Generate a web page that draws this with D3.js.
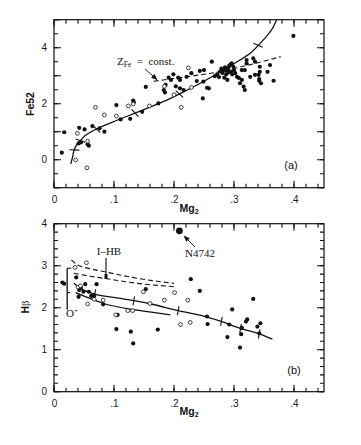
<!DOCTYPE html>
<html>
<head>
<meta charset="utf-8">
<script src="https://d3js.org/d3.v7.min.js"></script>
<style>
  body { margin: 0; background: #fff; }
  svg { display: block; }
  .ax path { display: none; }
  .lbl text { font-family: "Liberation Sans", Arial, sans-serif; font-size: 10px; fill: #1a1a1a; }
</style>
</head>
<body>
<svg id="fig" width="361" height="445"></svg>
<script>
// ---- panel (a): Fe52 vs Mg2 ----
const aFilled = [
  [.013,.25],[.017,.98],[.042,1.14],[.041,.58],[.045,.62],[.051,1.08],[.058,.50],[.056,.55],
  [.064,1.20],[.076,1.12],[.084,1.00],[.104,1.95],[.111,1.44],[.127,1.46],[.132,2.11],[.133,2.05],
  [.147,1.71],[.153,2.60],[.174,2.01],[.183,2.49],[.185,2.40],[.186,2.67],[.191,2.93],[.195,2.85],
  [.199,3.05],[.203,2.62],[.207,2.93],[.210,2.85],[.210,2.55],[.216,2.49],[.221,2.96],[.229,3.09],
  [.238,2.81],[.243,3.17],[.248,2.19],[.249,2.79],[.250,3.20],[.255,2.57],[.258,2.55],[.263,3.50],
  [.268,2.98],[.272,3.05],[.275,2.95],[.277,3.15],[.279,3.25],[.281,3.10],[.283,3.20],[.284,2.93],
  [.285,3.30],[.287,3.05],[.288,3.18],[.289,2.85],[.290,3.25],[.291,3.12],[.292,3.35],[.294,3.40],
  [.295,3.15],[.296,3.44],[.297,3.05],[.299,3.32],[.300,3.20],[.302,3.09],[.305,2.96],[.308,2.92],
  [.310,2.73],[.313,2.85],[.313,3.20],[.316,2.61],[.318,2.49],[.318,3.20],[.321,3.56],[.321,3.44],
  [.327,2.96],[.332,3.62],[.335,3.50],[.335,3.03],[.341,3.03],[.342,2.88],[.342,2.82],[.345,2.73],
  [.343,3.32],[.343,3.14],[.356,3.14],[.360,3.38],[.366,2.82],[.399,4.42]
];
const aOpen = [
  [.036,-.01],[.055,-.29],[.039,.94],[.056,.66],[.069,1.87],[.084,1.60],[.104,1.56],[.124,1.92],
  [.132,1.99],[.159,1.92],[.184,2.62],[.200,2.32],[.212,1.87],[.224,3.28],[.229,2.58]
];
const aCurve = [
  [.028,-.15],[.031,.10],[.033,.30],[.037,.50],[.044,.68],[.052,.86],[.062,1.00],[.077,1.16],
  [.104,1.40],[.132,1.64],[.160,1.88],[.188,2.13],[.216,2.42],[.243,2.72],[.271,3.06],[.299,3.42],
  [.327,3.80],[.349,4.28],[.363,4.65],[.371,5.00]
];
const aDash = [[.166,2.80],[.220,2.96],[.270,3.12],[.320,3.36],[.378,3.68]];
const aCross = [.034,.044,.071,.135,.209,.340];

// ---- panel (b): Hbeta vs Mg2 ----
const bFilled = [
  [.014,2.60],[.017,2.57],[.037,2.72],[.042,2.42],[.045,2.47],[.049,2.38],[.052,2.56],[.041,2.26],
  [.058,2.38],[.062,2.28],[.067,2.28],[.071,2.56],[.082,2.08],[.153,2.44],[.106,1.83],[.104,1.49],
  [.128,1.43],[.132,1.15],[.173,1.48],[.228,2.68],[.243,2.40],[.255,1.79],[.256,1.61],[.297,1.96],
  [.332,2.21],[.292,1.60],[.289,1.30],[.312,1.37],[.310,1.05],[.320,1.67],[.322,1.72],[.339,1.55],
  [.344,1.63],[.342,1.39],[.313,1.52]
];
const bOpen = [
  [.035,2.96],[.054,3.07],[.040,2.49],[.044,2.52],[.056,2.09],[.067,2.20],[.082,2.18],[.149,2.38],
  [.160,2.10],[.184,2.18],[.201,2.36],[.223,2.18],[.103,1.83],[.123,1.93],[.131,1.93],[.211,1.60],
  [.227,1.65]
];
const bBig = [[.209,3.83]];
const bDashUp = [[.029,3.14],[.039,3.02],[.060,2.93],[.083,2.86],[.139,2.70],[.200,2.58]];
const bDashLo = [[.033,2.82],[.060,2.75],[.083,2.70],[.139,2.58],[.200,2.50]];
const bSolidUp = [[.033,2.58],[.044,2.46],[.067,2.33],[.111,2.22],[.158,2.10],[.207,1.93],
  [.252,1.79],[.280,1.67],[.310,1.51],[.340,1.39],[.364,1.25]];
const bSolidLo = [[.036,2.36],[.060,2.22],[.083,2.10],[.139,1.94],[.194,1.83]];
const bTicks = [.068,.133,.207,.279,.311,.342];
const oPlus = [[.022,2.94],[.022,1.95]];

const xMajor = [0,.1,.2,.3,.4];
const xMinor = d3.range(0, 0.451, 0.02);
const aYLabels = [0,2,4];
const bYLabels = [0,1,2,3,4];

const svg = d3.select('#fig');
const ink = '#111';

function fmtX(v) { return v === 0 ? '0' : '.' + Math.round(v * 10); }

// inward ticks on all four sides, one path per call, positions from the scales
function edgeTicks(g, x, y, vals, len, horiz) {
  const [x0, x1] = x.range();
  const [y0, y1] = y.range();
  let d = '';
  vals.forEach(v => {
    if (horiz) {
      const px = x(v).toFixed(2);
      d += `M${px},${y0}V${y0 - len}M${px},${y1}V${y1 + len}`;
    } else {
      const py = y(v).toFixed(2);
      d += `M${x0},${py}H${x0 + len}M${x1},${py}H${x1 - len}`;
    }
  });
  g.append('path').attr('d', d).attr('fill', 'none').attr('stroke', ink).attr('stroke-width', 1.1);
}

function drawFrame(g, x, y, yMinor, yMajor, yLabels) {
  const [x0, x1] = x.range();
  const [y0, y1] = y.range();
  g.append('rect').attr('x', x0).attr('y', y1).attr('width', x1 - x0).attr('height', y0 - y1)
    .attr('fill', 'none').attr('stroke', ink).attr('stroke-width', 1.2);
  edgeTicks(g, x, y, xMinor, 4, true);
  edgeTicks(g, x, y, xMajor, 7, true);
  edgeTicks(g, x, y, yMinor, 4, false);
  edgeTicks(g, x, y, yMajor, 7, false);
  // labels
  g.append('g').attr('class', 'ax lbl').attr('transform', `translate(0,${y0 + 3})`)
    .call(d3.axisBottom(x).tickValues(xMajor).tickSize(0).tickFormat(fmtX))
    .selectAll('text').attr('dy', '0.9em');
  g.append('g').attr('class', 'ax lbl').attr('transform', `translate(${x0 - 4},0)`)
    .call(d3.axisLeft(y).tickValues(yLabels).tickSize(0).tickFormat(d3.format('d')));
}

function drawPoints(g, x, y, filled, open, r) {
  g.selectAll(null).data(filled).join('circle')
    .attr('cx', d => x(d[0])).attr('cy', d => y(d[1])).attr('r', r).attr('fill', ink);
  g.selectAll(null).data(open).join('circle')
    .attr('cx', d => x(d[0])).attr('cy', d => y(d[1])).attr('r', r - 0.2)
    .attr('fill', '#fff').attr('stroke', ink).attr('stroke-width', 0.8);
}

function sansText(g, x, y, rot) {
  const t = g.append('text').attr('x', x).attr('y', y).attr('text-anchor', 'middle')
    .attr('font-family', '"Liberation Sans", Arial, sans-serif').attr('font-size', 10.5)
    .attr('font-weight', 'bold').attr('fill', ink);
  if (rot) t.attr('transform', `rotate(-90,${x},${y})`);
  return t;
}
function serif(g, x, y, txt, anchor) {
  return g.append('text').attr('x', x).attr('y', y).attr('text-anchor', anchor || 'start')
    .attr('font-family', '"Liberation Serif", "Times New Roman", serif').attr('font-size', 11)
    .attr('fill', ink).text(txt);
}

svg.append('defs').append('marker').attr('id', 'arr').attr('viewBox', '0 0 10 10')
  .attr('refX', 9).attr('refY', 5).attr('markerWidth', 7).attr('markerHeight', 7)
  .attr('orient', 'auto').append('path').attr('d', 'M0,1 L10,5 L0,9 Z').attr('fill', ink);

// ================= panel (a) =================
const xA = d3.scaleLinear().domain([0, .45]).range([54, 324]);
const yA = d3.scaleLinear().domain([-1, 5]).range([187.7, 19.7]);
const gA = svg.append('g');
drawFrame(gA, xA, yA, d3.range(-1, 5.01, 0.5), d3.range(-1, 5.01, 1), aYLabels);

const lineA = d3.line().x(d => xA(d[0])).y(d => yA(d[1])).curve(d3.curveCatmullRom);
gA.append('path').attr('d', lineA(aCurve)).attr('fill', 'none').attr('stroke', ink).attr('stroke-width', 1.3);
gA.append('path').attr('d', d3.line().x(d => xA(d[0])).y(d => yA(d[1])).curve(d3.curveMonotoneX)(aDash))
  .attr('fill', 'none').attr('stroke', ink).attr('stroke-width', 1.1).attr('stroke-dasharray', '5,3');

// crosses on the model curve
const bis = d3.bisector(d => d[0]).left;
aCross.forEach(m => {
  const i = Math.max(1, Math.min(aCurve.length - 1, bis(aCurve, m)));
  const p = aCurve[i - 1], q = aCurve[i];
  const t = (m - p[0]) / (q[0] - p[0]);
  const px = xA(m), py = yA(p[1] + t * (q[1] - p[1]));
  const ang = Math.atan2(yA(q[1]) - yA(p[1]), xA(q[0]) - xA(p[0])) + Math.PI / 2.6;
  const L = 5;
  gA.append('line').attr('x1', px - L * Math.cos(ang)).attr('y1', py - L * Math.sin(ang))
    .attr('x2', px + L * Math.cos(ang)).attr('y2', py + L * Math.sin(ang))
    .attr('stroke', ink).attr('stroke-width', 1.1);
});

drawPoints(gA, xA, yA, aFilled, aOpen, 2.1);

// Z_Fe label
const zt = serif(gA, 117, 65, '');
zt.append('tspan').text('Z');
zt.append('tspan').attr('font-size', 7.5).attr('dy', 2).text('Fe');
zt.append('tspan').attr('dy', -2).text('\u2002=\u2002const.');
gA.append('line').attr('x1', 145).attr('y1', 69).attr('x2', 157).attr('y2', 79.5)
  .attr('stroke', ink).attr('stroke-width', 0.9).attr('marker-end', 'url(#arr)');
sansText(gA, 291, 169).attr('font-weight', 'normal').attr('font-size', 11).text('(a)');

const mA = sansText(gA, 189, 212);
mA.append('tspan').text('Mg');
mA.append('tspan').attr('font-size', 7).attr('dy', 2).text('2');
sansText(gA, 34, 104, true).text('Fe52');

// ================= panel (b) =================
const xB = d3.scaleLinear().domain([0, .45]).range([54, 324]);
const yB = d3.scaleLinear().domain([0, 4]).range([391.7, 223.7]);
const gB = svg.append('g');
drawFrame(gB, xB, yB, d3.range(0, 4.01, 0.2), d3.range(0, 4.01, 1), bYLabels);

const lineB = d3.line().x(d => xB(d[0])).y(d => yB(d[1])).curve(d3.curveMonotoneX);
[bDashUp, bDashLo].forEach(s => gB.append('path').attr('d', lineB(s)).attr('fill', 'none')
  .attr('stroke', ink).attr('stroke-width', 1.1).attr('stroke-dasharray', '5,3'));
[bSolidUp, bSolidLo].forEach(s => gB.append('path').attr('d', lineB(s)).attr('fill', 'none')
  .attr('stroke', ink).attr('stroke-width', 1.3));

// ticks on the upper solid line
const bisB = d3.bisector(d => d[0]).left;
bTicks.forEach(m => {
  const i = Math.max(1, Math.min(bSolidUp.length - 1, bisB(bSolidUp, m)));
  const p = bSolidUp[i - 1], q = bSolidUp[i];
  const v = p[1] + (m - p[0]) / (q[0] - p[0]) * (q[1] - p[1]);
  gB.append('line').attr('x1', xB(m) - 0.8).attr('y1', yB(v) + 4.5).attr('x2', xB(m) + 0.8).attr('y2', yB(v) - 4.5)
    .attr('stroke', ink).attr('stroke-width', 1.1);
});

drawPoints(gB, xB, yB, bFilled, bOpen, 2.1);
gB.selectAll(null).data(bBig).join('circle')
  .attr('cx', d => xB(d[0])).attr('cy', d => yB(d[1])).attr('r', 3.4).attr('fill', ink);

// O+ bar
gB.append('line').attr('x1', xB(oPlus[0][0])).attr('y1', yB(oPlus[0][1]))
  .attr('x2', xB(oPlus[1][0])).attr('y2', yB(oPlus[1][1])).attr('stroke', ink).attr('stroke-width', 1.3);
gB.append('line').attr('x1', xB(oPlus[0][0])).attr('y1', yB(oPlus[0][1]))
  .attr('x2', xB(oPlus[0][0]) + 4).attr('y2', yB(oPlus[0][1])).attr('stroke', ink).attr('stroke-width', 1.1);
gB.append('line').attr('x1', xB(oPlus[0][0])).attr('y1', yB(2.36))
  .attr('x2', xB(oPlus[0][0]) + 3).attr('y2', yB(2.36)).attr('stroke', ink).attr('stroke-width', 1.1);
const ot = serif(gB, 66, 317, '');
ot.append('tspan').text('O');
ot.append('tspan').attr('font-size', 7).attr('dy', -4).text('+');

// I-HB label
serif(gB, 109, 255, 'I\u2013HB', 'middle');
gB.append('line').attr('x1', 106).attr('y1', 258).attr('x2', 106).attr('y2', 278)
  .attr('stroke', ink).attr('stroke-width', 1.1);
gB.append('rect').attr('x', 104.5).attr('y', 274).attr('width', 3).attr('height', 5).attr('fill', ink);

// N4742 label
serif(gB, 200, 257, 'N4742', 'middle');
gB.append('line').attr('x1', 195).attr('y1', 247).attr('x2', 184).attr('y2', 236)
  .attr('stroke', ink).attr('stroke-width', 0.9).attr('marker-end', 'url(#arr)');
sansText(gB, 294, 374).attr('font-weight', 'normal').attr('font-size', 11).text('(b)');

const mB = sansText(gB, 189, 415);
mB.append('tspan').text('Mg');
mB.append('tspan').attr('font-size', 7).attr('dy', 2).text('2');
const hb = sansText(gB, 29, 307, true);
hb.append('tspan').text('H');
hb.append('tspan').attr('font-family', '"Liberation Serif", serif').attr('font-weight', 'normal').text('\u03B2');
</script>
</body>
</html>
